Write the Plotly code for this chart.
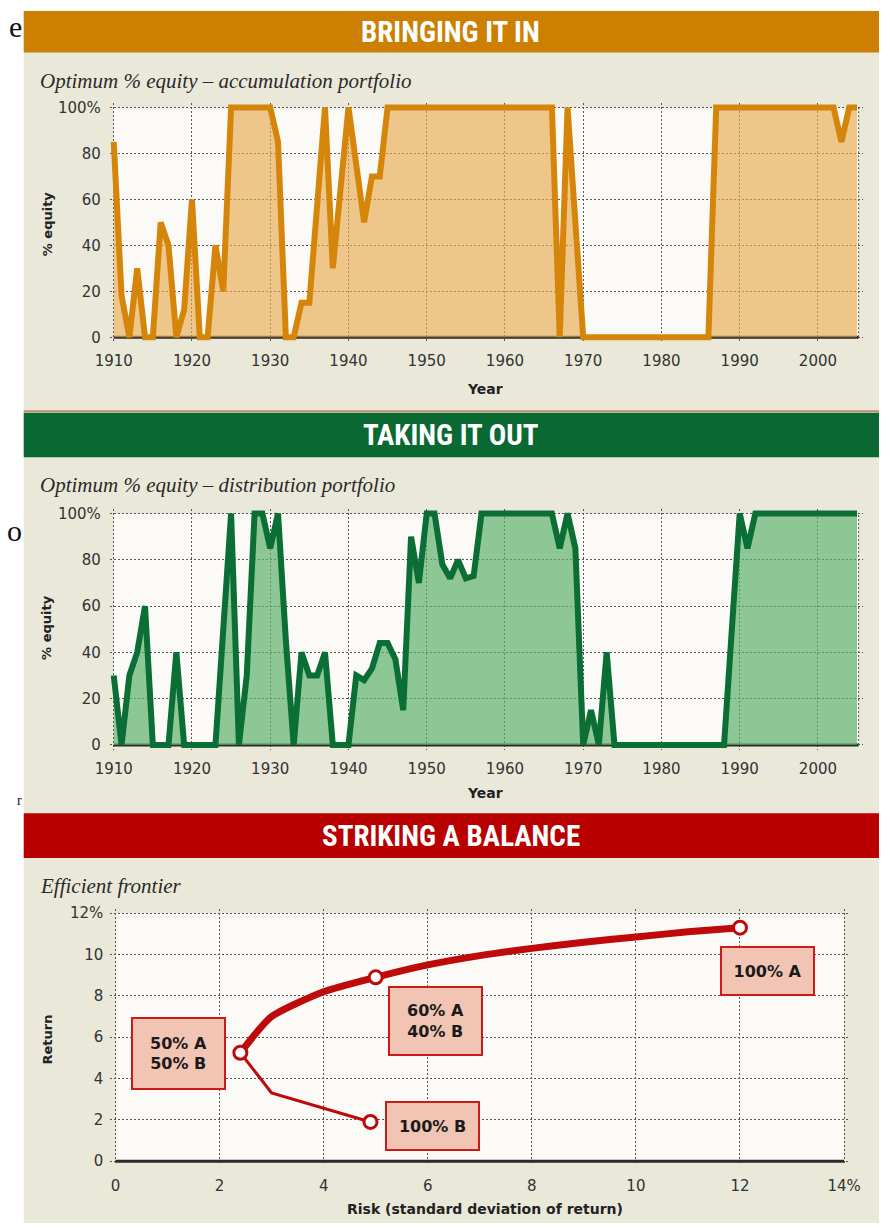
import plotly.graph_objects as go

W, H = 890, 1228

# ---------------- data ----------------
years = list(range(1910, 2006))

accumulation_pct = [
    85, 18, 0, 30, 0, 0, 50, 40, 0, 12,          # 1910-1919
    60, 0, 0, 40, 20, 100, 100, 100, 100, 100,    # 1920-1929
    100, 85, 0, 0, 15, 15, 57, 100, 30, 65,       # 1930-1939
    100, 75, 50, 70, 70, 100, 100, 100, 100, 100, # 1940-1949
    100, 100, 100, 100, 100, 100, 100, 100, 100, 100,  # 1950-1959
    100, 100, 100, 100, 100, 100, 100, 0, 100, 50,     # 1960-1969
    0, 0, 0, 0, 0, 0, 0, 0, 0, 0,                 # 1970-1979
    0, 0, 0, 0, 0, 0, 0, 100, 100, 100,           # 1980-1989
    100, 100, 100, 100, 100, 100, 100, 100, 100, 100,  # 1990-1999
    100, 100, 100, 85, 100, 100,                  # 2000-2005
]

distribution_pct = [
    30, 0, 30, 40, 60, 0, 0, 0, 40, 0,            # 1910-1919
    0, 0, 0, 0, 50, 100, 0, 30, 100, 100,         # 1920-1929
    85, 100, 45, 0, 40, 30, 30, 40, 0, 0,         # 1930-1939
    0, 30, 28, 33, 44, 44, 37, 15, 90, 70,        # 1940-1949
    100, 100, 78, 72, 80, 72, 73, 100, 100, 100,  # 1950-1959
    100, 100, 100, 100, 100, 100, 100, 85, 100, 85,    # 1960-1969
    0, 15, 0, 40, 0, 0, 0, 0, 0, 0,               # 1970-1979
    0, 0, 0, 0, 0, 0, 0, 0, 0, 50,                # 1980-1989
    100, 85, 100, 100, 100, 100, 100, 100, 100, 100,   # 1990-1999
    100, 100, 100, 100, 100, 100,                 # 2000-2005
]

year_ticks = [1910, 1920, 1930, 1940, 1950, 1960, 1970, 1980, 1990, 2000]
equity_ticks = [0, 20, 40, 60, 80, 100]
equity_ticktext = ["0", "20", "40", "60", "80", "100%"]

frontier_risk = [2.4, 3.0, 4.0, 5.0, 6.0, 7.0, 8.0, 9.0, 10.0, 11.0, 12.0]
frontier_return = [5.25, 7.0, 8.2, 8.9, 9.5, 9.95, 10.3, 10.6, 10.85, 11.1, 11.3]
inefficient_risk = [2.4, 3.0, 4.9]
inefficient_return = [5.25, 3.3, 1.9]

point_risk = [2.4, 5.0, 12.0, 4.9]
point_return = [5.25, 8.9, 11.3, 1.9]
point_labels = ["50% A<br>50% B", "60% A<br>40% B", "100% A", "100% B"]

risk_ticks = [0, 2, 4, 6, 8, 10, 12, 14]
risk_ticktext = ["0", "2", "4", "6", "8", "10", "12", "14%"]
return_ticks = [0, 2, 4, 6, 8, 10, 12]
return_ticktext = ["0", "2", "4", "6", "8", "10", "12%"]

# ---------------- styling ----------------
BEIGE = "#EAE8D9"
PLOTBOX = "#FBFAF6"
ORANGE = "#D5860A"
ORANGE_BANNER = "#CC7F00"
ORANGE_FILL = "rgba(232,170,78,0.65)"
GREEN = "#0B6E34"
GREEN_BANNER = "#0A6932"
GREEN_FILL = "rgba(92,176,108,0.7)"
RED = "#BE0A0A"
RED_BANNER = "#B80000"
BOX_FILL = "#F2C4B4"
BOX_LINE = "#CC1A1A"
GRID = "#555555"
TICK_FONT = dict(family="DejaVu Sans", size=15, color="#333333")
BANNER_FAMILY = "Roboto Condensed, DejaVu Sans Condensed, Liberation Sans Narrow, Roboto, sans-serif"


def px(x):
    return x / W


def py(y):
    return 1 - y / H


fig = go.Figure()

fig.add_trace(go.Scatter(
    x=years, y=accumulation_pct, mode="lines", fill="tozeroy",
    fillcolor=ORANGE_FILL, line=dict(color=ORANGE, width=6),
    xaxis="x", yaxis="y", hoverinfo="skip"))

fig.add_trace(go.Scatter(
    x=years, y=distribution_pct, mode="lines", fill="tozeroy",
    fillcolor=GREEN_FILL, line=dict(color=GREEN, width=6),
    xaxis="x2", yaxis="y2", hoverinfo="skip"))

fig.add_trace(go.Scatter(
    x=inefficient_risk, y=inefficient_return, mode="lines",
    line=dict(color=RED, width=3), xaxis="x3", yaxis="y3", hoverinfo="skip"))
fig.add_trace(go.Scatter(
    x=frontier_risk, y=frontier_return, mode="lines",
    line=dict(color=RED, width=7, shape="spline", smoothing=0.6),
    xaxis="x3", yaxis="y3", hoverinfo="skip"))
fig.add_trace(go.Scatter(
    x=point_risk, y=point_return, mode="markers",
    marker=dict(size=13, color="white", line=dict(color=RED, width=3)),
    xaxis="x3", yaxis="y3", hoverinfo="skip", cliponaxis=False))

axis_common = dict(
    showgrid=True, gridcolor=GRID, griddash="2px,2px", gridwidth=1,
    zeroline=False, showline=False, ticks="", tickfont=TICK_FONT,
    fixedrange=True,
)

# pixel geometry of the plot boxes
fig.update_layout(
    xaxis=dict(axis_common, domain=[px(97.67), px(873.03)], range=[1909.5, 2005.7],
               tickvals=year_ticks, anchor="y", ticklabelstandoff=8),
    yaxis=dict(axis_common, domain=[py(339.63), py(98.67)], range=[-2, 102],
               tickvals=equity_ticks, ticktext=equity_ticktext, anchor="x",
               ticklabelstandoff=8),
    xaxis2=dict(axis_common, domain=[px(97.67), px(873.03)], range=[1909.5, 2005.7],
                tickvals=year_ticks, anchor="y2", ticklabelstandoff=8),
    yaxis2=dict(axis_common, domain=[py(750.67), py(508.03)], range=[-2, 102],
                tickvals=equity_ticks, ticktext=equity_ticktext, anchor="x2",
                ticklabelstandoff=8),
    xaxis3=dict(axis_common, domain=[px(98.14), px(859.36)], range=[-0.1, 14.1],
                tickvals=risk_ticks, ticktext=risk_ticktext, anchor="y3",
                ticklabelstandoff=10),
    yaxis3=dict(axis_common, domain=[py(1169.87), py(911.53)], range=[-0.2, 12.2],
                tickvals=return_ticks, ticktext=return_ticktext, anchor="x3",
                ticklabelstandoff=6),
)

shapes = []
# page background
shapes.append(dict(type="rect", xref="paper", yref="paper", x0=px(9), x1=1,
                   y0=0, y1=py(6), fillcolor=BEIGE, line=dict(width=0), layer="below"))
# plot boxes
for xr, yr, x0, x1, y0, y1 in [("x", "y", 1910, 2005.2, 0, 100),
                               ("x2", "y2", 1910, 2005.2, 0, 100),
                               ("x3", "y3", 0, 14, 0, 12)]:
    shapes.append(dict(type="rect", xref=xr, yref=yr, x0=x0, x1=x1, y0=y0, y1=y1,
                       fillcolor=PLOTBOX, line=dict(width=0), layer="below"))
    shapes.append(dict(type="line", xref=xr, yref=yr, x0=x0, x1=x1, y0=0, y1=0,
                       line=dict(color="#2a2a2a", width=3), layer="between"))
for xr, yr in [("x", "y"), ("x2", "y2")]:
    shapes.append(dict(type="line", xref=xr, yref=yr, x0=2005.2, x1=2005.2, y0=0, y1=100,
                       line=dict(color=GRID, width=1, dash="2px,2px"), layer="between"))

# banners
for top, bottom, color in [(6, 48, ORANGE_BANNER), (411, 456, GREEN_BANNER),
                           (815, 860, RED_BANNER)]:
    shapes.append(dict(type="rect", xref="paper", yref="paper", x0=px(9), x1=1,
                       y0=py(bottom), y1=py(top), fillcolor=color, line=dict(width=0)))
shapes.append(dict(type="line", xref="paper", yref="paper", x0=px(9), x1=1,
                   y0=py(409.5), y1=py(409.5), line=dict(color="#B9906A", width=2)))
fig.update_layout(shapes=shapes)

ann = []
banner_font = dict(family=BANNER_FAMILY, size=29, color="white", weight="bold")
for text, yc in [("BRINGING IT IN", 27), ("TAKING IT OUT", 434), ("STRIKING A BALANCE", 838)]:
    ann.append(dict(text=text, xref="paper", yref="paper", x=px(449), y=py(yc),
                    xanchor="center", yanchor="middle", showarrow=False, font=banner_font))

sub_font = dict(family="Liberation Serif", size=21, color="#2a2a2a", style="italic")
for text, yc in [("Optimum % equity \u2013 accumulation portfolio", 77),
                 ("Optimum % equity \u2013 distribution portfolio", 484),
                 ("Efficient frontier", 888)]:
    ann.append(dict(text=text, xref="paper", yref="paper", x=px(24), y=py(yc),
                    xanchor="left", yanchor="middle", showarrow=False, font=sub_font))

title_font = dict(family="DejaVu Sans", size=13, color="#222222", weight="bold")
xtitle_font = dict(family="DejaVu Sans", size=14, color="#222222", weight="bold")
for text, yc in [("% equity", 221), ("% equity", 628), ("Return", 1043)]:
    ann.append(dict(text=text, xref="paper", yref="paper", x=px(33), y=py(yc),
                    xanchor="center", yanchor="middle", textangle=-90,
                    showarrow=False, font=title_font))
for text, yc in [("Year", 387), ("Year", 794), ("Risk (standard deviation of return)", 1214)]:
    ann.append(dict(text=text, xref="paper", yref="paper", x=px(484), y=py(yc),
                    xanchor="center", yanchor="middle", showarrow=False, font=xtitle_font))

# point label boxes (layout positions in data units of the frontier chart)
label_pos = {
    "50% A<br>50% B": (1.22, 5.19, 67),
    "60% A<br>40% B": (6.14, 6.8, 64),
    "100% A": (12.52, 9.2, 44),
    "100% B": (6.1, 1.71, 44),
}
for lab in point_labels:
    lx, ly, hh = label_pos[lab]
    ann.append(dict(text=lab, xref="x3", yref="y3", x=lx, y=ly, xanchor="center",
                    yanchor="middle", showarrow=False, width=89, height=hh,
                    bgcolor=BOX_FILL, bordercolor=BOX_LINE, borderwidth=2, borderpad=1,
                    font=dict(family="DejaVu Sans", size=16, color="#1a1a1a", weight="bold")))

# stray characters of the cropped page at the left edge
for ch, yc, size in [("e", 22, 30), ("o", 530, 30), ("r", 802, 14)]:
    ann.append(dict(text=ch, xref="paper", yref="paper", x=px(9), y=py(yc),
                    xanchor="right", yanchor="middle", showarrow=False,
                    font=dict(family="Liberation Serif", size=size, color="#111111")))

fig.update_layout(
    annotations=ann,
    width=W, height=H,
    margin=dict(l=0, r=0, t=0, b=0),
    paper_bgcolor="white",
    plot_bgcolor="rgba(0,0,0,0)",
    showlegend=False,
)

fig.write_html(
    "out.html",
    config={"displayModeBar": False},
    post_script="document.body.style.margin='0';document.body.style.padding='0';"
                "document.documentElement.style.overflow='hidden';",
)
